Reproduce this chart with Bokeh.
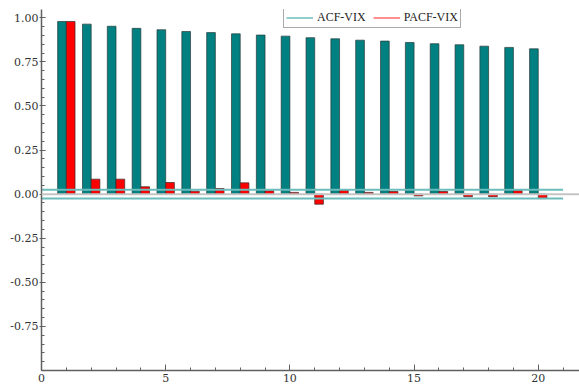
from bokeh.plotting import figure
from bokeh.models import (Range1d, FixedTicker, PrintfTickFormatter, Legend, LegendItem,
                          ColumnDataSource, Span)
from bokeh.embed import file_html
from bokeh.resources import INLINE

lags = list(range(1, 21))
acf = [0.979, 0.964, 0.952, 0.940, 0.932, 0.922, 0.916, 0.909, 0.902, 0.896,
       0.887, 0.881, 0.873, 0.868, 0.860, 0.853, 0.847, 0.839, 0.832, 0.824]
pacf = [0.979, 0.085, 0.085, 0.042, 0.066, 0.017, 0.032, 0.064, 0.019, 0.010,
        -0.057, 0.023, 0.010, 0.015, -0.010, 0.015, -0.015, -0.015, 0.020, -0.025]
conf = 0.025
conf_x = [0, 21]
x_ticks = [0, 5, 10, 15, 20]
y_ticks = [-0.75, -0.5, -0.25, 0.0, 0.25, 0.5, 0.75, 1.0]

FONT = "Liberation Serif"
AXFONT = "DejaVu Serif"
TEAL = "#008080"
RED = "#ff0000"
BAND = "#6cbcbc"

p = figure(width=579, height=384, output_backend="svg", toolbar_location=None,
           x_range=Range1d(0, 21.66), y_range=Range1d(-1.0, 1.047),
           min_border_left=41, min_border_right=0, min_border_top=9, min_border_bottom=0)
p.outline_line_color = None
p.grid.visible = False
p.background_fill_color = "white"
p.border_fill_color = "white"

# zero line
p.add_layout(Span(location=0, dimension="width", line_color="#c4c4c4", line_width=2))

bw = 0.35
src = ColumnDataSource(dict(
    xa=[l - bw / 2 for l in lags], xp=[l + bw / 2 for l in lags], acf=acf, pacf=pacf))
p.vbar(x="xa", width=bw, top="acf", bottom=0, source=src, fill_color=TEAL,
       line_color="#2a3a3a", line_width=1, line_alpha=0.7)
p.vbar(x="xp", width=bw, top="pacf", bottom=0, source=src, fill_color=RED,
       line_color="#3a2a2a", line_width=1, line_alpha=0.7)

p.line(conf_x, [conf, conf], line_color=BAND, line_width=2)
p.line(conf_x, [-conf, -conf], line_color=BAND, line_width=2)
nan = float("nan")
acf_leg = p.line([0], [nan], line_color=BAND, line_width=1.5)
pacf_leg = p.line([0], [nan], line_color="#ff6a6a", line_width=1.5)

legend = Legend(items=[LegendItem(label="ACF-VIX", renderers=[acf_leg]),
                       LegendItem(label="PACF-VIX", renderers=[pacf_leg])],
                orientation="horizontal")
legend.label_text_font = FONT
legend.label_text_font_size = "12px"
legend.label_text_color = "#222222"
legend.border_line_color = "#555555"
legend.border_line_width = 1
legend.padding = 2
legend.spacing = 7
legend.margin = 0
legend.glyph_width = 27
legend.glyph_height = 13
legend.label_height = 13
legend.label_standoff = 4
legend.background_fill_alpha = 1
legend.location = (242, 342)
p.add_layout(legend, "center")

p.axis.major_label_text_font = AXFONT
p.axis.axis_line_color = "#606060"
p.axis.axis_line_width = 1.5
p.axis.major_tick_line_color = "#606060"
p.axis.minor_tick_line_color = "#606060"
p.axis.major_label_text_font_size = "11px"
p.axis.major_label_text_color = "#333333"

p.xaxis.ticker = FixedTicker(ticks=x_ticks, minor_ticks=list(range(0, 22)))
p.xaxis.major_tick_in = 6
p.xaxis.major_tick_out = 0
p.xaxis.minor_tick_in = 3
p.xaxis.minor_tick_out = 0
p.xaxis.major_label_standoff = 3

p.yaxis.ticker = FixedTicker(ticks=y_ticks,
                             minor_ticks=[round(-1.0 + 0.05 * i, 2) for i in range(41)])
p.yaxis.formatter = PrintfTickFormatter(format="%.2f")
p.yaxis.major_tick_in = 4
p.yaxis.major_tick_out = 2
p.yaxis.minor_tick_in = 3
p.yaxis.minor_tick_out = 0
p.yaxis.major_label_standoff = 1

open("out.html", "w").write(file_html(p, INLINE))
